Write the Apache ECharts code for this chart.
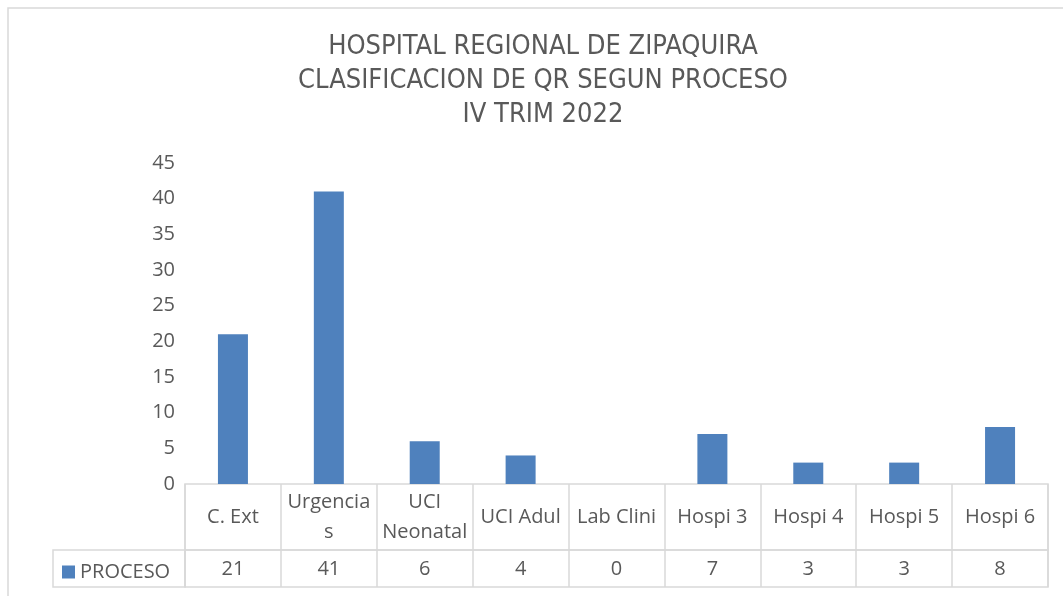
<!DOCTYPE html>
<html>
<head>
<meta charset="utf-8">
<script src="https://cdn.jsdelivr.net/npm/echarts@6/dist/echarts.min.js"></script>
<style>
  html, body { margin: 0; padding: 0; background: #fff; }
  #main { width: 1063px; height: 596px; }
</style>
</head>
<body>
<div id="main"></div>
<script>
// datos del grafico
var categorias = ["C. Ext", "Urgencias", "UCI Neonatal", "UCI Adul", "Lab Clini", "Hospi 3", "Hospi 4", "Hospi 5", "Hospi 6"];
var etiquetas = ["C. Ext", "Urgencia\ns", "UCI\nNeonatal", "UCI Adul", "Lab Clini", "Hospi 3", "Hospi 4", "Hospi 5", "Hospi 6"];
var proceso = [21, 41, 6, 4, 0, 7, 3, 3, 8];
var nombreSerie = "PROCESO";
var titulo = "HOSPITAL REGIONAL DE ZIPAQUIRA\nCLASIFICACION DE QR SEGUN PROCESO\nIV TRIM 2022";

var gris = "#595959";
var linea = "#d9d9d9";
var fuente = "Open Sans";

var chart = echarts.init(document.getElementById("main"));

var option = {
  animation: false,
  backgroundColor: "#fff",
  title: {
    text: titulo,
    left: 543,
    textAlign: "center",
    top: 30,
    padding: 0,
    textStyle: {
      fontFamily: "DejaVu Sans Condensed, sans-serif",
      fontWeight: "normal",
      fontSize: 27,
      lineHeight: 34,
      color: gris
    }
  },
  legend: {
    data: [nombreSerie],
    left: 57,
    top: 557,
    itemWidth: 13,
    itemHeight: 13,
    icon: "rect",
    textStyle: { fontFamily: fuente, fontSize: 20, color: gris }
  },
  graphic: [
    {
      type: "rect",
      shape: { x: 8, y: 8, width: 1100, height: 620 },
      style: { fill: "none", stroke: linea, lineWidth: 1.5 },
      silent: true
    }
  ],
  grid: [
    // area de barras
    { left: 185, right: 15, top: 163, bottom: 112 },
    // fila de encabezados
    { left: 185, right: 15, top: 484, bottom: 46, show: true, borderColor: linea, borderWidth: 1.5 },
    // fila de valores
    { left: 185, right: 15, top: 550, bottom: 9, show: true, borderColor: linea, borderWidth: 1.5 },
    // celda de leyenda
    { left: 53, right: 878, top: 550, bottom: 9, show: true, borderColor: linea, borderWidth: 1.5 }
  ],
  xAxis: [
    {
      gridIndex: 0,
      type: "category",
      data: etiquetas,
      axisLine: { show: false },
      axisTick: { show: false },
      axisLabel: {
        margin: 33,
        verticalAlign: "middle",
        fontFamily: fuente,
        fontSize: 20,
        lineHeight: 30,
        color: gris,
        interval: 0
      }
    },
    {
      gridIndex: 0,
      type: "category",
      position: "bottom",
      data: proceso.map(String),
      axisLine: { show: false },
      axisTick: { show: false },
      axisLabel: {
        margin: 85,
        verticalAlign: "middle",
        fontFamily: fuente,
        fontSize: 20,
        color: gris,
        interval: 0
      }
    },
    {
      gridIndex: 1,
      type: "category",
      data: categorias,
      axisLine: { show: false },
      axisTick: { show: false },
      axisLabel: { show: false },
      splitLine: { show: true, interval: 0, lineStyle: { color: linea, width: 1.5 } }
    },
    {
      gridIndex: 2,
      type: "category",
      data: categorias,
      axisLine: { show: false },
      axisTick: { show: false },
      axisLabel: { show: false },
      splitLine: { show: true, interval: 0, lineStyle: { color: linea, width: 1.5 } }
    },
    {
      gridIndex: 3,
      type: "category",
      data: [""],
      show: false
    }
  ],
  yAxis: [
    {
      gridIndex: 0,
      type: "value",
      min: 0,
      max: 45,
      interval: 5,
      axisLine: { show: false },
      axisTick: { show: false },
      splitLine: { show: false },
      axisLabel: { margin: 10, fontFamily: fuente, fontSize: 20, color: gris }
    },
    { gridIndex: 1, type: "value", show: false },
    { gridIndex: 2, type: "value", show: false },
    { gridIndex: 3, type: "value", show: false }
  ],
  series: [
    {
      name: nombreSerie,
      type: "bar",
      xAxisIndex: 0,
      yAxisIndex: 0,
      data: proceso,
      barWidth: 30,
      itemStyle: { color: "#4f81bd" }
    }
  ]
};

chart.setOption(option);
</script>
</body>
</html>
